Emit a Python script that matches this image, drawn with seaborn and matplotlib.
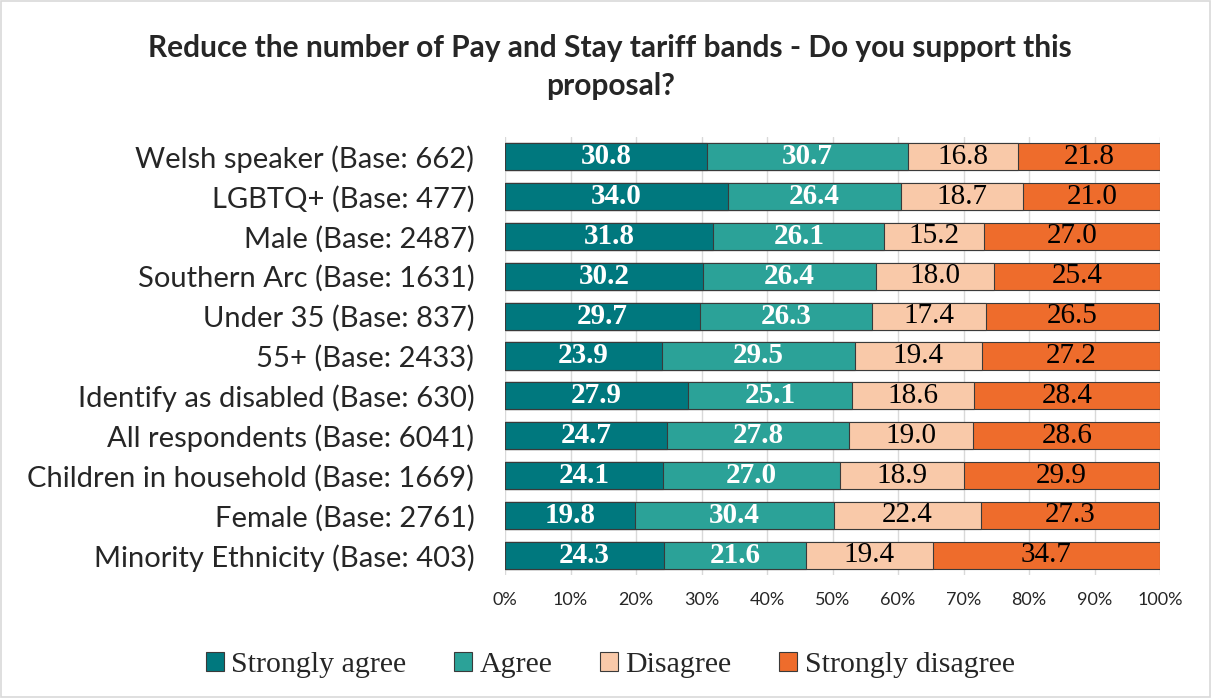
import numpy as np
import pandas as pd
import matplotlib
matplotlib.use("Agg")
import matplotlib.pyplot as plt
import seaborn as sns

# ----------------------
# Data
# ----------------------
groups = ['Welsh speaker (Base: 662)', 'LGBTQ+ (Base: 477)', 'Male (Base: 2487)',
          'Southern Arc (Base: 1631)', 'Under 35 (Base: 837)', '55+ (Base: 2433)',
          'Identify as disabled (Base: 630)', 'All respondents (Base: 6041)',
          'Children in household (Base: 1669)', 'Female (Base: 2761)',
          'Minority Ethnicity (Base: 403)']
strongly_agree = [30.8, 34.0, 31.8, 30.2, 29.7, 23.9, 27.9, 24.7, 24.1, 19.8, 24.3]
agree = [30.7, 26.4, 26.1, 26.4, 26.3, 29.5, 25.1, 27.8, 27.0, 30.4, 21.6]
disagree = [16.8, 18.7, 15.2, 18.0, 17.4, 19.4, 18.6, 19.0, 18.9, 22.4, 19.4]
strongly_disagree = [21.8, 21.0, 27.0, 25.4, 26.5, 27.2, 28.4, 28.6, 29.9, 27.3, 34.7]

series_names = ['Strongly agree', 'Agree', 'Disagree', 'Strongly disagree']
colors = ['#00787E', '#2BA298', '#F9C9A9', '#EE6C2C']
text_colors = ['white', 'white', 'black', 'black']

df = pd.DataFrame({'group': groups, 'Strongly agree': strongly_agree, 'Agree': agree,
                   'Disagree': disagree, 'Strongly disagree': strongly_disagree})
cum = df[series_names].cumsum(axis=1)
left = cum - df[series_names]

# ----------------------
# Plot
# ----------------------
sns.set_style('white')
fig = plt.figure(figsize=(12.11, 6.98), dpi=100)
ax = fig.add_axes([0.417, 0.176, 0.541, 0.628])

# draw cumulative bars from the back so the segments stack
for name, col in reversed(list(zip(series_names, colors))):
    sns.barplot(x=cum[name].clip(upper=100), y=df['group'], order=groups, color=col,
                orient='h', width=0.68, edgecolor='#3a3a3a', linewidth=0.8,
                saturation=1, ax=ax, label=name, zorder=3)

for i in range(len(groups)):
    for name, tc in zip(series_names, text_colors):
        v = df[name][i]
        ax.text(left[name][i] + v / 2, i, f'{v:.1f}', ha='center', va='center',
                color=tc, fontsize=21, family='Liberation Serif',
                fontweight='bold' if tc == 'white' else 'normal', zorder=4)

handles, labels = ax.get_legend_handles_labels()
if ax.get_legend() is not None:
    ax.get_legend().remove()

ax.set_xlim(0, 100)
ax.set_ylim(len(groups) - 0.5, -0.5)
ax.set_xticks(np.arange(0, 101, 10))
ax.set_xticklabels([f'{t}%' for t in range(0, 101, 10)], fontsize=13, family='Lato')
ax.set_yticklabels(groups, fontsize=21, family='Lato')
ax.tick_params(axis='y', length=0, pad=22)
ax.tick_params(axis='x', length=0, pad=12)
ax.set_xlabel('')
ax.set_ylabel('')
ax.grid(axis='x', color='#d9d9d9', linewidth=1, zorder=0)
for s in ax.spines.values():
    s.set_visible(False)
ax.set_axisbelow(True)

fig.suptitle('Reduce the number of Pay and Stay tariff bands - Do you support this\nproposal?',
             x=0.504, y=0.952, fontsize=21.5, fontweight='bold', family='Lato',
             linespacing=1.45)

order = [labels.index(n) for n in series_names]
fig.legend([handles[k] for k in order], series_names, loc='center', ncol=4,
           bbox_to_anchor=(0.504, 0.047), frameon=False,
           prop={'family': 'Liberation Serif', 'size': 21.5},
           handlelength=0.6, handleheight=0.6, handletextpad=0.25, columnspacing=1.6)

fig.patches.append(plt.Rectangle((0.001, 0.001), 0.998, 0.998, transform=fig.transFigure,
                                 fill=False, edgecolor='#d9d9d9', linewidth=1.2))

plt.savefig('out.png', dpi=100)
